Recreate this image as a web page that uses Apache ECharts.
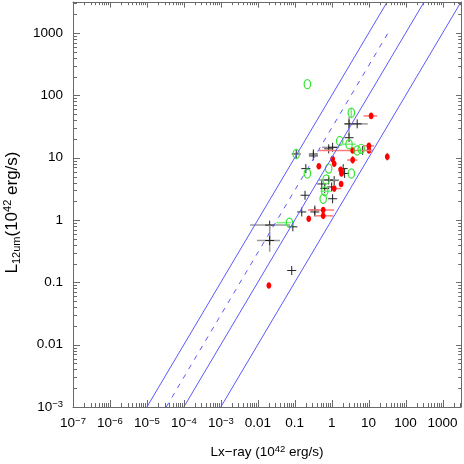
<!DOCTYPE html>
<html>
<head>
<meta charset="utf-8">
<script src="https://cdn.jsdelivr.net/npm/echarts@6.0.0/dist/echarts.min.js"></script>
<style>
  * { margin: 0; padding: 0; }
  body { background: #fff; }
</style>
</head>
<body>
<div id="main" style="width: 464px;height: 464px;"></div>
<script>
// axis ranges and labelled decades
var xRange = [1e-7, 3162];
var yRange = [1e-3, 3162];
var xTicks = [1e-7, 1e-6, 1e-5, 1e-4, 1e-3, 0.01, 0.1, 1, 10, 100, 1000];
var yTicks = [1e-3, 0.01, 0.1, 1, 10, 100, 1000];

// reference relations L12 = k * Lx
var solidRatios = [100, 10, 1];
var dashedRatio = 30;
var dashedSpan = [1e-3, 1e3];

// rows: [Lx, L12, xlo, xhi, ylo, yhi]  (error ends optional)
var blackSrc = [
  [2.95, 35, 2.2, 9.5, 22, 45],
  [4.9, 35],
  [2.95, 21],
  [1.06, 14.7, 0.55, 1.6],
  [0.83, 13.9],
  [0.32, 11.5],
  [6.9, 13.1],
  [0.11, 11.5],
  [0.32, 10.7],
  [0.2, 6.7],
  [2.05, 6.7],
  [2.24, 5.6],
  [1.17, 4.3],
  [0.54, 3.8],
  [0.83, 4.4, 0.45, 1.6],
  [0.65, 3.2],
  [1.0, 3.4],
  [1.06, 2.2],
  [0.19, 2.5],
  [0.35, 1.45],
  [0.155, 1.35],
  [0.35, 1.35],
  [0.021, 0.83, 0.0062, 0.075],
  [0.021, 0.47, 0.0095, 0.04, 0.31, 0.83],
  [0.089, 0.78],
  [0.083, 0.155]
];
var redSrc = [
  [11.7, 47, 7.3, 17],
  [32, 10.4, null, null, 9, 12],
  [10.2, 15.5, 7, 14],
  [10.2, 13.1],
  [3.7, 13.1, 0.45, 13],
  [3.7, 9.2, 2.6, 5.0, 8, 10.7],
  [1.06, 9.5],
  [0.45, 7.3],
  [1.17, 8.0],
  [1.75, 6.4, null, null, 5.3, 7.2],
  [1.85, 5.6],
  [1.17, 3.2, 1.06, 1.8],
  [1.8, 3.8],
  [0.59, 1.45, 0.23, 1.17],
  [0.59, 1.17, 0.35, 1.1],
  [0.24, 1.05],
  [0.02, 0.089]
];
var greenSrc = [
  [0.22, 152],
  [0.11, 11.5],
  [0.22, 5.6],
  [0.072, 0.91, 0.032, 0.08],
  [3.4, 53, null, null, 43, 62],
  [1.65, 18.6],
  [2.95, 16.5, 1.65, 4.5],
  [4.9, 13.1],
  [6.3, 13.9],
  [0.83, 6.7],
  [3.4, 5.6],
  [0.71, 4.5],
  [0.65, 2.9, 0.5, 0.95],
  [0.59, 2.2]
];

var lg = Math.log10;
var FONT = "'Liberation Sans', Arial, sans-serif";
var AX = '#6a6a6a';
var LINE_BLUE = '#5a5aff';

function prep(rows) {
  return rows.map(function (r) {
    var v = [r[0], r[1],
      r[2] != null ? r[2] : r[0], r[3] != null ? r[3] : r[0],
      r[4] != null ? r[4] : r[1], r[5] != null ? r[5] : r[1]];
    return v.map(lg);
  });
}

function minorTicks(range) {
  var out = [];
  var lo = lg(range[0]), hi = lg(range[1]);
  for (var d = Math.floor(lo); d < Math.ceil(hi); d++) {
    for (var m = 2; m <= 9; m++) {
      var v = d + lg(m);
      if (v > lo && v < hi) out.push(v);
    }
  }
  return out;
}

function fmt(v, powBelow) {
  var e = Math.round(v);
  if (e < powBelow) return '{n|10}{e|\u2212' + (-e) + '}';
  return '{n|' + Math.pow(10, e).toFixed(Math.max(0, -e)) + '}';
}

var richLbl = {
  n: { fontSize: 13.5, fontFamily: FONT, color: '#000', lineHeight: 15 },
  e: { fontSize: 9.5, fontFamily: FONT, color: '#000', lineHeight: 9, verticalAlign: 'top' }
};

function makeAxis(pos, range, label) {
  return {
    type: 'value', position: pos, gridIndex: 0,
    min: lg(range[0]), max: lg(range[1]),
    axisLine: { show: true, onZero: false, lineStyle: { color: AX, width: 1 } },
    axisTick: { show: false },
    axisLabel: label || { show: false },
    splitLine: { show: false }
  };
}

var xMajor = xTicks.map(lg), yMajor = yTicks.map(lg);
var xMinor = minorTicks(xRange), yMinor = minorTicks(yRange);

var xAxes = [
  makeAxis('bottom', xRange, {
    show: true, customValues: xMajor, margin: 9,
    formatter: function (v) { return fmt(v, -2); }, rich: richLbl
  }),
  makeAxis('top', xRange)
];
xAxes[0].name = '{n|Lx\u2212ray (10}{e|42}{n| erg/s)}';
xAxes[0].nameLocation = 'middle';
xAxes[0].nameGap = 37;
xAxes[0].nameTextStyle = {
  rich: {
    n: { fontSize: 13.5, fontFamily: FONT, color: '#000', lineHeight: 16 },
    e: { fontSize: 9.5, fontFamily: FONT, color: '#000', lineHeight: 9, verticalAlign: 'top' }
  }
};

var yAxes = [
  makeAxis('left', yRange, {
    show: true, customValues: yMajor, margin: 10,
    formatter: function (v) { return fmt(v, -2); }, rich: richLbl
  }),
  makeAxis('right', yRange)
];
yAxes[0].name = '{n|L}{s|12um}{n|(10}{e|42}{n| erg/s)}';
yAxes[0].nameLocation = 'middle';
yAxes[0].nameRotate = 90;
yAxes[0].nameGap = 46;
yAxes[0].nameTextStyle = {
  padding: [0, 16, 0, 0],
  rich: {
    n: { fontSize: 17, fontFamily: FONT, color: '#000', lineHeight: 20 },
    s: { fontSize: 11, fontFamily: FONT, color: '#000', lineHeight: 10, verticalAlign: 'bottom' },
    e: { fontSize: 11, fontFamily: FONT, color: '#000', lineHeight: 10, verticalAlign: 'top' }
  }
};

// tick rows: [log value, 0 = x axis / 1 = y axis, length]
var tickRows = [];
xMajor.forEach(function (v) { tickRows.push([v, 0, 7]); });
xMinor.forEach(function (v) { tickRows.push([v, 0, 4]); });
yMajor.forEach(function (v) { tickRows.push([v, 1, 7]); });
yMinor.forEach(function (v) { tickRows.push([v, 1, 4]); });

function renderTick(params, api) {
  var cs = params.coordSys;
  var v = api.value(0), isY = api.value(1), len = api.value(2);
  var st = { stroke: AX, lineWidth: 1 };
  var kids = [];
  if (!isY) {
    var px = Math.round(api.coord([v, lg(yRange[0])])[0]) + 0.5;
    var b = cs.y + cs.height, t = cs.y;
    kids.push({ type: 'line', shape: { x1: px, y1: b, x2: px, y2: b - len }, style: st });
    kids.push({ type: 'line', shape: { x1: px, y1: t, x2: px, y2: t + len * 0.8 }, style: st });
  } else {
    var py = Math.round(api.coord([lg(xRange[0]), v])[1]) + 0.5;
    var l = cs.x, r = cs.x + cs.width;
    kids.push({ type: 'line', shape: { x1: l, y1: py, x2: l + len, y2: py }, style: st });
    kids.push({ type: 'line', shape: { x1: r, y1: py, x2: r - len * 0.7, y2: py }, style: st });
  }
  return { type: 'group', children: kids };
}

var marks = {
  black: { bar: '#9a9a9a' },
  red: { bar: '#ff7a7a', fill: '#ff0000' },
  green: { bar: '#7cf07c', stroke: '#33e633' }
};

function render(kind) {
  var st = marks[kind];
  return function (params, api) {
    var x = api.value(0), y = api.value(1);
    var c = api.coord([x, y]);
    var xl = api.coord([api.value(2), y]), xh = api.coord([api.value(3), y]);
    var yl = api.coord([x, api.value(4)]), yh = api.coord([x, api.value(5)]);
    var kids = [];
    if (xh[0] - xl[0] > 0.5) {
      kids.push({ type: 'line', shape: { x1: xl[0], y1: c[1], x2: xh[0], y2: c[1] }, style: { stroke: st.bar, lineWidth: 1.5 } });
    }
    if (yl[1] - yh[1] > 0.5) {
      kids.push({ type: 'line', shape: { x1: c[0], y1: yl[1], x2: c[0], y2: yh[1] }, style: { stroke: st.bar, lineWidth: 1.5 } });
    }
    if (kind === 'black') {
      kids.push({ type: 'line', shape: { x1: c[0] - 4.5, y1: c[1], x2: c[0] + 4.5, y2: c[1] }, style: { stroke: '#222', lineWidth: 1 } });
      kids.push({ type: 'line', shape: { x1: c[0], y1: c[1] - 4.5, x2: c[0], y2: c[1] + 4.5 }, style: { stroke: '#222', lineWidth: 1 } });
    } else if (kind === 'red') {
      kids.push({ type: 'ellipse', shape: { cx: c[0], cy: c[1], rx: 2.4, ry: 3.3 }, style: { fill: st.fill } });
    } else {
      kids.push({ type: 'ellipse', shape: { cx: c[0], cy: c[1], rx: 3.2, ry: 4.6 }, style: { fill: 'none', stroke: st.stroke, lineWidth: 1.2 } });
    }
    return { type: 'group', children: kids };
  };
}

function relLine(k, yLo, yHi) {
  var y2 = Math.min(yHi, k * xRange[1]);
  return [[lg(yLo / k), lg(yLo)], [lg(y2 / k), lg(y2)]];
}

var series = [];
series.push({
  type: 'custom', data: tickRows, renderItem: renderTick, silent: true,
  encode: { x: 0 }, z: 5
});
solidRatios.forEach(function (k) {
  series.push({
    type: 'line', data: relLine(k, yRange[0], yRange[1]), symbol: 'none', silent: true,
    lineStyle: { color: LINE_BLUE, width: 1 }
  });
});
series.push({
  type: 'line', data: relLine(dashedRatio, dashedSpan[0], dashedSpan[1]), symbol: 'none', silent: true,
  lineStyle: { color: LINE_BLUE, width: 1, type: [5, 6] }
});
[['black', blackSrc], ['red', redSrc], ['green', greenSrc]].forEach(function (g) {
  series.push({
    type: 'custom', data: prep(g[1]), renderItem: render(g[0]),
    encode: { x: 0, y: 1 }, silent: true
  });
});

var chart = echarts.init(document.getElementById('main'));
chart.setOption({
  animation: false,
  backgroundColor: '#fff',
  grid: { left: 73, right: 3, top: 2, bottom: 57, containLabel: false, outerBoundsMode: 'none' },
  xAxis: xAxes,
  yAxis: yAxes,
  series: series
});
</script>
</body>
</html>
